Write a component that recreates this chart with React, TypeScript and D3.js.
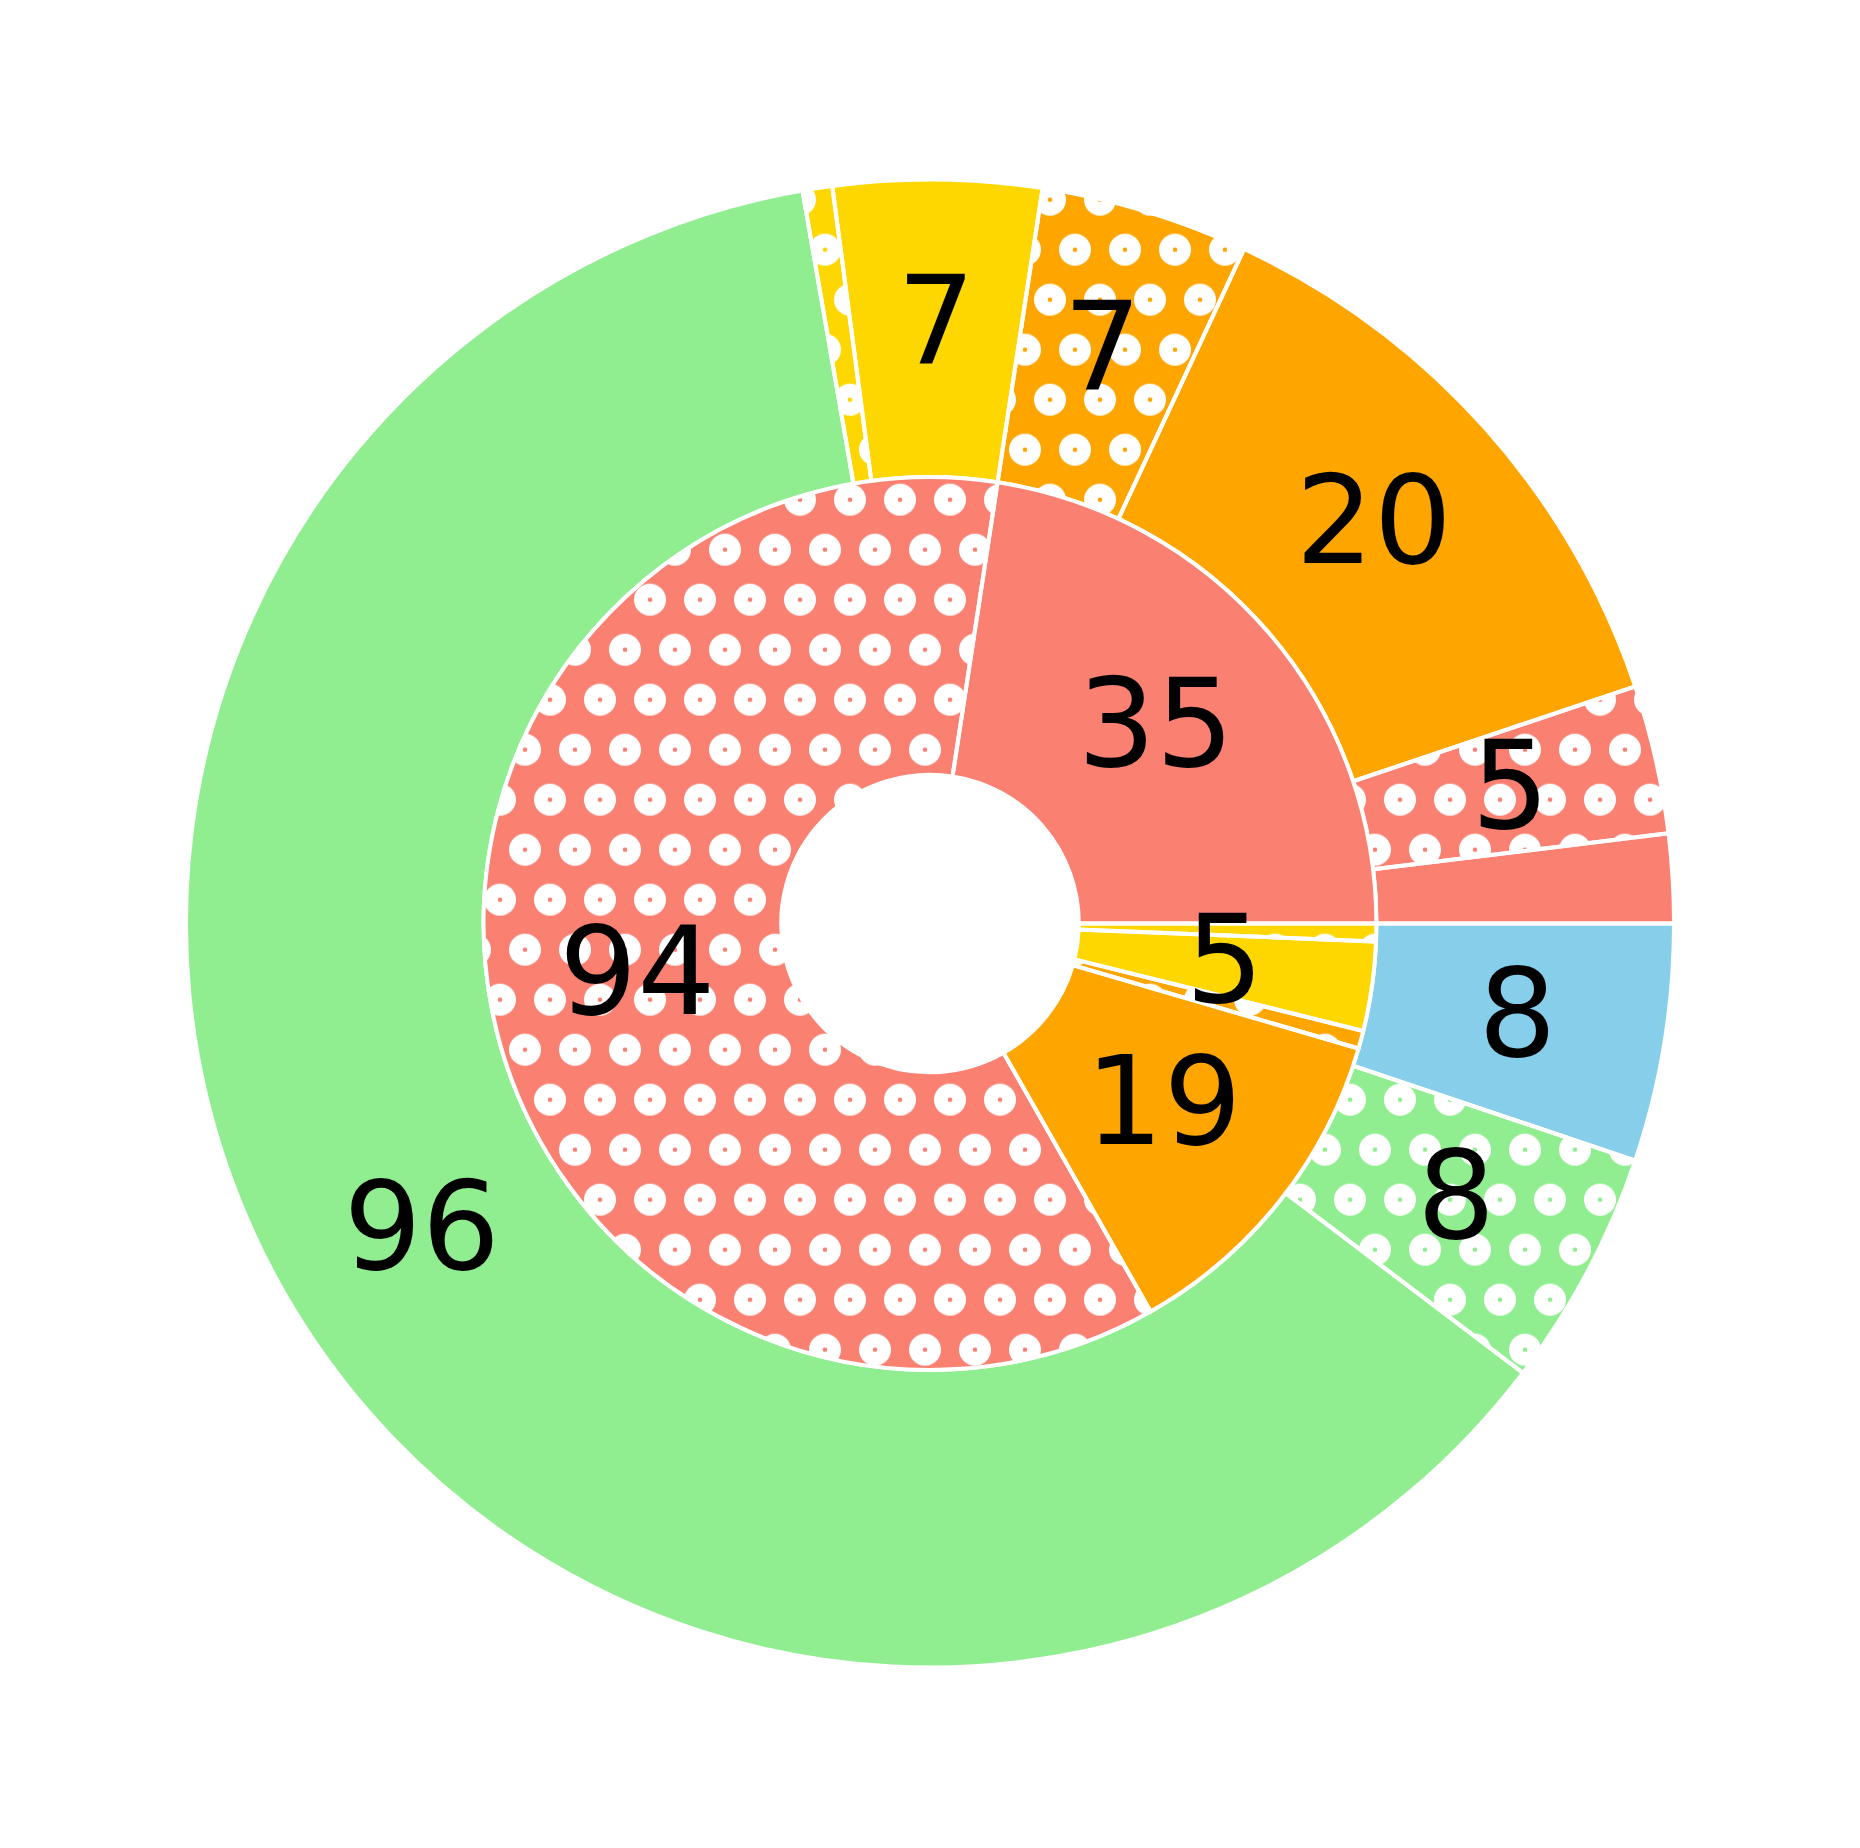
import { useEffect, useRef } from "react";
import * as d3 from "d3";

// outer ring, counter-clockwise from 3 o'clock
const outerValues = [3, 5, 20, 7, 7, 1, 96, 8, 8];
const outerColors = ["salmon", "salmon", "orange", "orange", "gold", "gold", "lightgreen", "lightgreen", "skyblue"];
const outerHatch = [false, true, false, true, false, true, false, true, false];

// inner ring
const innerValues = [35, 94, 19, 1, 5, 1];
const innerColors = ["salmon", "salmon", "orange", "orange", "gold", "gold"];
const innerHatch = [false, true, false, true, false, true];

const minLabel = 5; // small wedges get no number

const NestedPie = () => {
  const ref = useRef<HTMLDivElement | null>(null);

  function chartRender(svg: any) {
    const width = 1860;
    const height = 1848;
    const cx = 930;
    const cy = 923.5;
    const R = 744;
    const fontSize = 123;

    svg
      .attr("width", width)
      .attr("height", height)
      .style("position", "absolute")
      .style("left", 0)
      .style("top", 0)
      .style("background", "#fff");

    // hatch 'o': white rings on a 50px staggered grid, phase fixed to the page
    const pat = svg
      .append("defs")
      .append("pattern")
      .attr("id", "dots")
      .attr("patternUnits", "userSpaceOnUse")
      .attr("x", -cx)
      .attr("y", -cy - 0.3)
      .attr("width", 50)
      .attr("height", 100);
    [[0, 0], [50, 0], [0, 100], [50, 100], [25, 50]].forEach(([x, y]) => {
      pat
        .append("circle")
        .attr("cx", x)
        .attr("cy", y)
        .attr("r", 9.15)
        .attr("fill", "none")
        .attr("stroke", "#fff")
        .attr("stroke-width", 13.7);
    });

    const g = svg.append("g").attr("transform", `translate(${cx},${cy})`);

    // matplotlib: start at east, go counter-clockwise
    const pie = d3
      .pie<number>()
      .sort(null)
      .value((d) => d)
      .startAngle(Math.PI / 2)
      .endAngle(Math.PI / 2 - 2 * Math.PI);

    const rings = [
      { values: outerValues, colors: outerColors, hatch: outerHatch, r0: 0.6 * R, r1: R },
      { values: innerValues, colors: innerColors, hatch: innerHatch, r0: 0.2 * R, r1: 0.6 * R },
    ];

    rings.forEach((ring) => {
      const arcs = pie(ring.values);
      const arc = d3.arc<any>().innerRadius(ring.r0).outerRadius(ring.r1);

      g.append("g")
        .selectAll("path")
        .data(arcs)
        .join("path")
        .attr("d", arc)
        .attr("fill", (_: any, i: number) => ring.colors[i]);

      g.append("g")
        .selectAll("path")
        .data(arcs.filter((_, i) => ring.hatch[i]))
        .join("path")
        .attr("d", arc)
        .attr("fill", "url(#dots)");

      g.append("g")
        .selectAll("path")
        .data(arcs)
        .join("path")
        .attr("d", arc)
        .attr("fill", "none")
        .attr("stroke", "#fff")
        .attr("stroke-width", 4)
        .attr("stroke-linejoin", "miter");

      g.append("g")
        .selectAll("text")
        .data(arcs.filter((a) => a.data >= minLabel))
        .join("text")
        .attr("x", (d: any) => arc.centroid(d)[0])
        .attr("y", (d: any) => arc.centroid(d)[1] + 36)
        .attr("text-anchor", "middle")
        .attr("font-family", "DejaVu Sans")
        .attr("font-size", fontSize)
        .attr("fill", "#000")
        .text((d: any) => d.data);
    });
  }

  useEffect(() => {
    if (ref.current) {
      const svg = d3.select(ref.current).append("svg");
      chartRender(svg);
      return () => {
        svg.remove();
      };
    }
  }, []);

  return <div ref={ref}></div>;
};

export default function App() {
  return <NestedPie />;
}
